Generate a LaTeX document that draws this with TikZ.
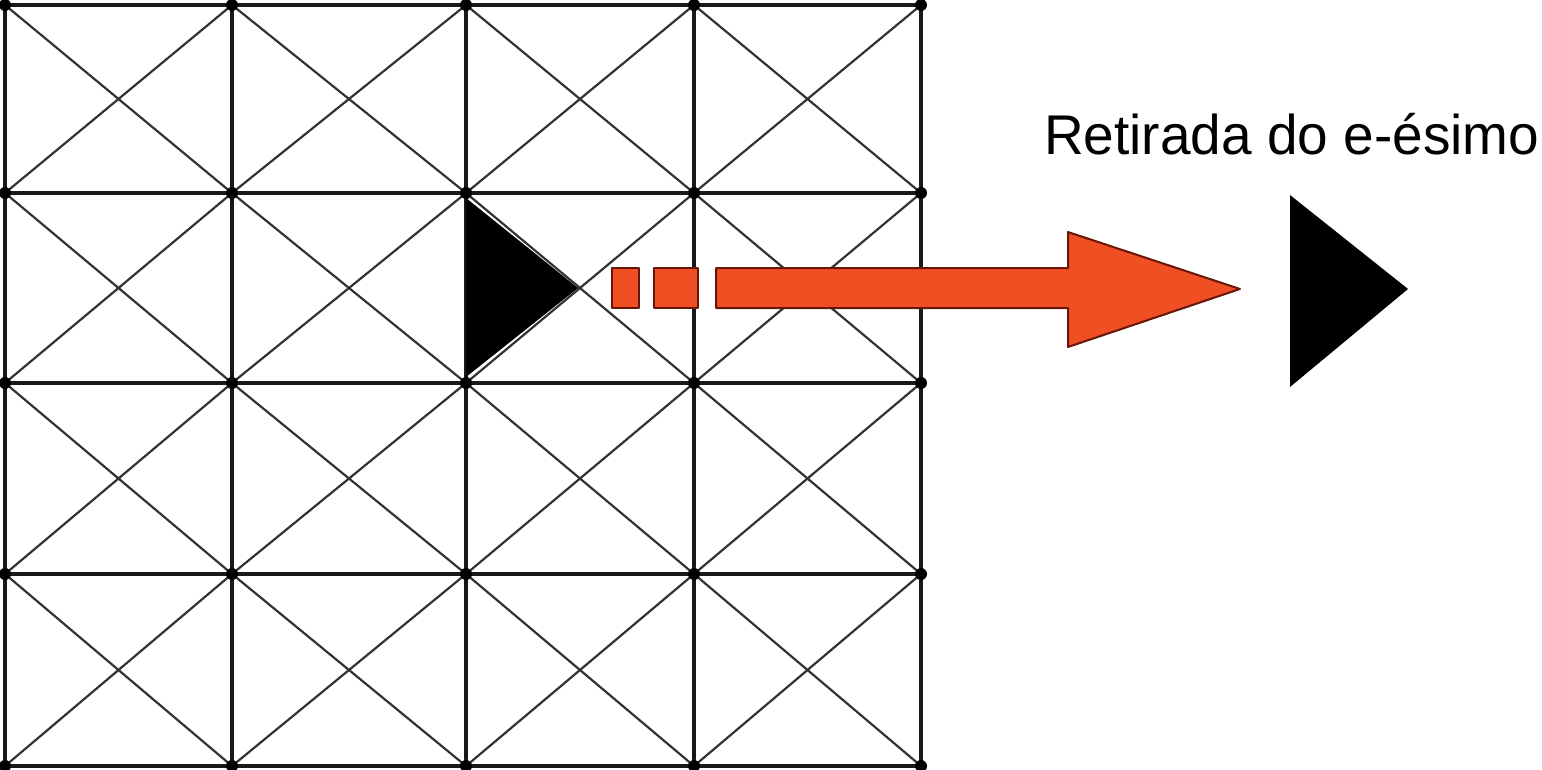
\documentclass[tikz,border=0pt]{standalone}
\usepackage{fontspec}
\setmainfont{Liberation Sans}
\definecolor{arrred}{HTML}{F04E23}
\definecolor{arredge}{HTML}{6A150A}
\newlength\lblw
\newcommand\fitlabel[2]{\settowidth\lblw{#2}\pgfmathsetmacro\lblsc{#1/\lblw}\scalebox{\lblsc}[1]{#2}}
\begin{document}
\begin{tikzpicture}[x=1pt,y=-1pt,
  gridline/.style={line width=3.2pt,black!90},
  border/.style={line width=3.8pt,black!90},
  diag/.style={line width=2.2pt,black!80},
  redpart/.style={fill=arrred,draw=arredge,line width=2pt,line join=round},
  tri/.style={fill=black}]
\useasboundingbox (0,0) rectangle (1542,770);
\def\xs{{5,232,466,694,921}}
\def\ys{{5,193,383,574,766}}
% diagonals
\foreach \i in {0,...,3}{
  \foreach \j in {0,...,3}{
    \pgfmathsetmacro\xa{\xs[\i]}\pgfmathsetmacro\xb{\xs[\i+1]}
    \pgfmathsetmacro\ya{\ys[\j]}\pgfmathsetmacro\yb{\ys[\j+1]}
    \draw[diag] (\xa,\ya) -- (\xb,\yb) (\xa,\yb) -- (\xb,\ya);
  }}
% grid lines
\foreach \i in {1,2,3}{
  \pgfmathsetmacro\xa{\xs[\i]}\pgfmathsetmacro\ya{\ys[\i]}
  \draw[gridline] (\xa,5) -- (\xa,766);
  \draw[gridline] (5,\ya) -- (921,\ya);
}
\draw[border] (5,5) rectangle (921,766);
% dots
\foreach \i in {0,...,4}{
  \foreach \j in {0,...,4}{
    \pgfmathsetmacro\xa{\xs[\i]}\pgfmathsetmacro\ya{\ys[\j]}
    \fill[black] (\xa,\ya) circle (6);
  }}
% triangle in grid
\fill[tri] (466,198) -- (578,288) -- (466,377) -- cycle;
% red dashes and arrow
\draw[redpart] (612,268) rectangle (639,308);
\draw[redpart] (654,268) rectangle (698,308);
\draw[redpart] (716,268) -- (1068,268) -- (1068,232) -- (1240,289) -- (1068,347) -- (1068,308) -- (716,308) -- cycle;
% removed triangle
\fill[tri] (1290,195) -- (1408,289) -- (1290,387) -- cycle;
% label
\node[anchor=base west,inner sep=0pt,font=\fontsize{56}{60}\selectfont] (lbl) at (1044,155) {\fitlabel{495pt}{Retirada do e-ésimo}};
\end{tikzpicture}
\end{document}
